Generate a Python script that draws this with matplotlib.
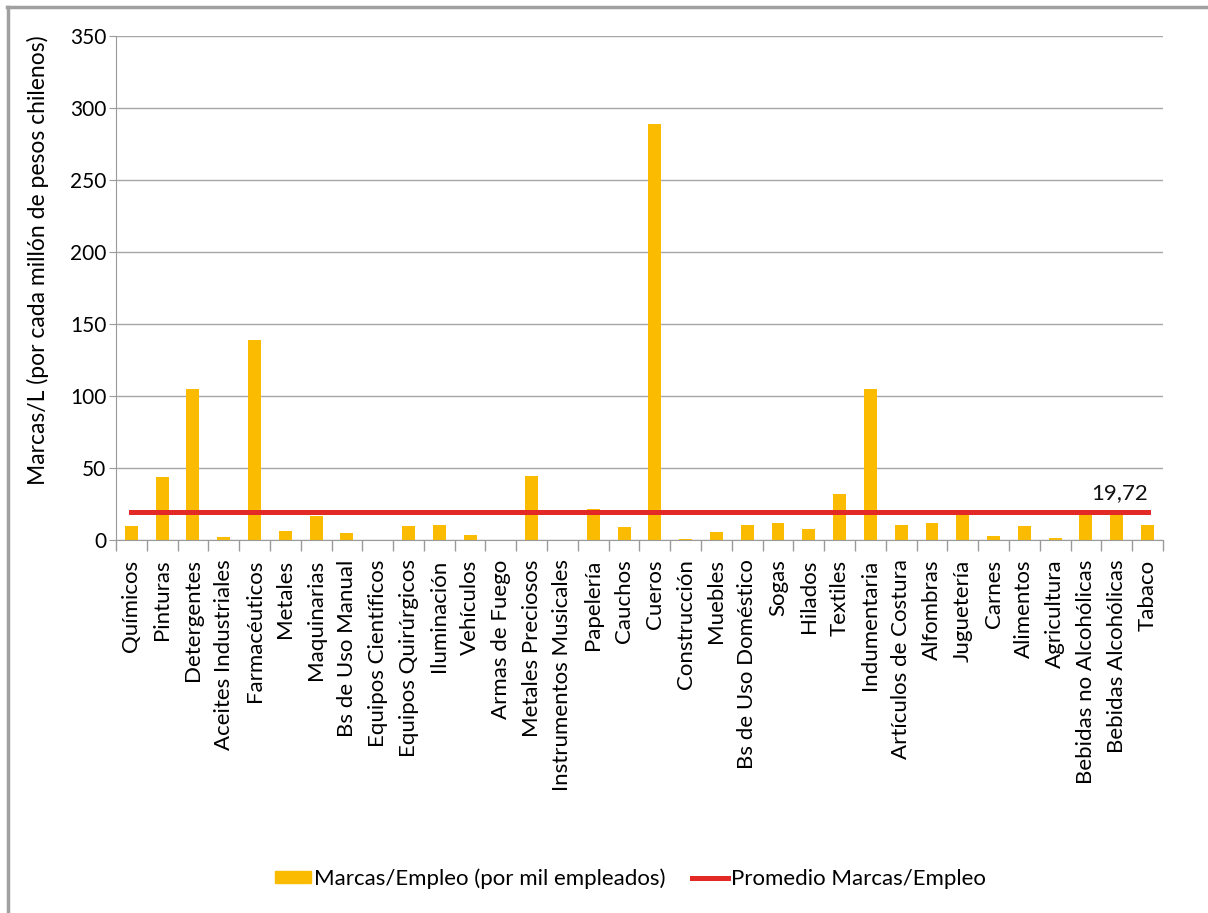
import numpy as np
import matplotlib.pyplot as plt
from matplotlib.lines import Line2D
from matplotlib.patches import Patch

plt.rcParams['font.family'] = ['Lato', 'DejaVu Sans']

sectores = ['Químicos', 'Pinturas', 'Detergentes', 'Aceites Industriales', 'Farmacéuticos',
            'Metales', 'Maquinarias', 'Bs de Uso Manual', 'Equipos Científicos',
            'Equipos Quirúrgicos', 'Iluminación', 'Vehículos', 'Armas de Fuego',
            'Metales Preciosos', 'Instrumentos Musicales', 'Papelería', 'Cauchos', 'Cueros',
            'Construcción', 'Muebles', 'Bs de Uso Doméstico', 'Sogas', 'Hilados', 'Textiles',
            'Indumentaria', 'Artículos de Costura', 'Alfombras', 'Juguetería', 'Carnes',
            'Alimentos', 'Agricultura', 'Bebidas no Alcohólicas', 'Bebidas Alcohólicas', 'Tabaco']
marcas_empleo = [9.8, 44, 105, 2, 139, 6.5, 16.8, 4.9, 0, 9.8, 10.4, 3.5, 0, 44.5, 0, 21.5,
                 9, 289, 0.7, 5.6, 10.4, 11.8, 7.6, 32, 105, 10.4, 11.8, 19, 2.8, 9.8, 1.4,
                 19.5, 19, 10.4]
promedio = 19.72

x = np.arange(len(sectores))

fig = plt.figure(figsize=(12.08, 9.13), dpi=100)
ax = fig.add_axes([0.096, 0.4086, 0.8667, 0.552])

ax.bar(x, marcas_empleo, width=0.42, color='#fbbb00', zorder=2)
ax.plot(x, [promedio] * len(x), color='#e32925', lw=3.6, zorder=3)
ax.text(x[-1], promedio + 6, f'{promedio:.2f}'.replace('.', ','), ha='right', va='bottom',
        fontsize=16, color='#111111')

ax.set_xlim(-0.5, len(x) - 0.5)
ax.set_ylim(0, 350)
ax.set_yticks(np.arange(0, 351, 50))
ax.grid(axis='y', color='#a6a6a6', lw=1, zorder=0)
ax.set_axisbelow(True)

ax.set_xticks(x)
ax.set_xticklabels(sectores, rotation=90, fontsize=16)
ax.tick_params(axis='x', which='major', length=0, pad=14)
ax.set_xticks(np.arange(-0.5, len(x), 1), minor=True)
ax.tick_params(axis='x', which='minor', length=8, color='#9a9a9a', width=1)
ax.tick_params(axis='y', length=5, color='#9a9a9a', labelsize=15, pad=2)

for s in ['top', 'right']:
    ax.spines[s].set_visible(False)
for s in ['left', 'bottom']:
    ax.spines[s].set_color('#9a9a9a')

ax.set_ylabel('Marcas/L (por cada millón de pesos chilenos)', fontsize=16.5)
ax.yaxis.set_label_coords(-0.064, 0.555)

handles = [Patch(color='#fbbb00'), Line2D([], [], color='#e32925', lw=3.6)]
fig.legend(handles, ['Marcas/Empleo (por mil empleados)', 'Promedio Marcas/Empleo'],
           loc='center', bbox_to_anchor=(0.522, 0.038), ncol=2, frameon=False,
           fontsize=16, handlelength=1.6, handleheight=0.45, handletextpad=0.15,
           columnspacing=1.2)

# marco gris arriba y a la izquierda
fig.add_artist(Line2D([0.006, 1], [0.9925, 0.9925], color='#a0a0a0', lw=2.5))
fig.add_artist(Line2D([0.0065, 0.0065], [0, 0.9925], color='#a0a0a0', lw=2.5))

fig.savefig('out.png', dpi=100)
